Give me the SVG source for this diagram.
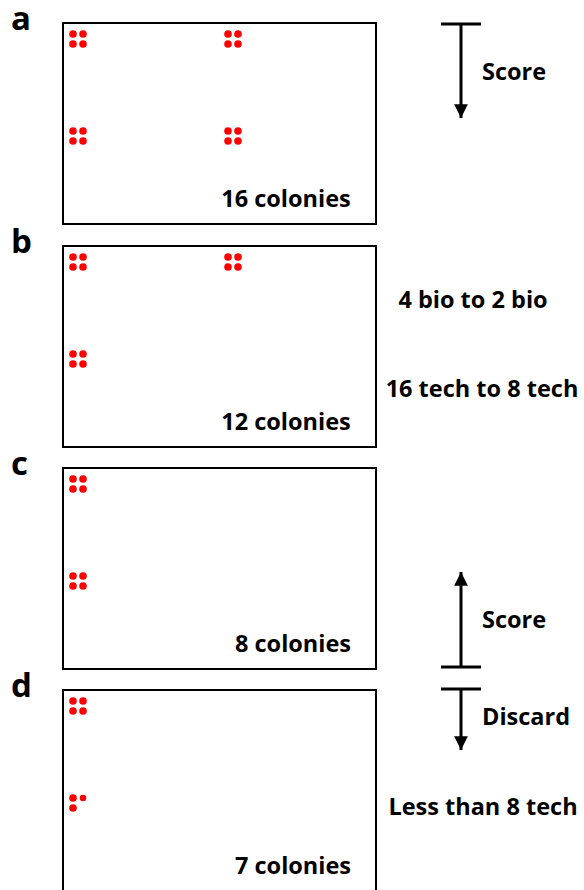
<svg xmlns="http://www.w3.org/2000/svg" width="584" height="890" viewBox="0 0 584 890">
<style>
.box{fill:#fff;stroke:#000;stroke-width:2}
.dot{fill:#ff0000}
.t{font-family:"Open Sans","Noto Sans",sans-serif;font-weight:bold;font-size:23.5px;fill:#000}
.lbl{font-family:"Open Sans","Noto Sans",sans-serif;font-weight:bold;font-size:33px;fill:#000}
.ln{stroke:#000;stroke-width:3;fill:none}
</style>
<defs>
<g id="q"><circle class="dot" cx="0" cy="0" r="3.8"/><circle class="dot" cx="10" cy="0" r="3.8"/><circle class="dot" cx="0" cy="10" r="3.8"/><circle class="dot" cx="10" cy="10" r="3.8"/></g>
<marker id="ah" viewBox="0 0 10 10" refX="10" refY="5" markerWidth="5.3" markerHeight="4.6" markerUnits="strokeWidth" orient="auto"><path d="M0,0 L10,5 L0,10 Z" fill="#000"/></marker>
</defs>
<g id="panel-a">
<text class="lbl" x="11" y="30">a</text>
<rect class="box" x="63" y="23" width="313" height="201"/>
<use href="#q" x="73" y="34"/><use href="#q" x="228" y="34"/>
<use href="#q" x="73" y="131"/><use href="#q" x="228" y="131"/>
<text class="t" x="286" y="207" text-anchor="middle">16 colonies</text>
</g>
<g id="panel-b">
<text class="lbl" x="11" y="253">b</text>
<rect class="box" x="63" y="246" width="313" height="201"/>
<use href="#q" x="73" y="257"/><use href="#q" x="228" y="257"/>
<use href="#q" x="73" y="354"/>
<text class="t" x="286" y="430" text-anchor="middle">12 colonies</text>
</g>
<g id="panel-c">
<text class="lbl" x="11" y="475">c</text>
<rect class="box" x="63" y="468" width="313" height="201"/>
<use href="#q" x="73" y="479"/>
<use href="#q" x="73" y="576"/>
<text class="t" x="293" y="652" text-anchor="middle">8 colonies</text>
</g>
<g id="panel-d">
<text class="lbl" x="11" y="697">d</text>
<rect class="box" x="63" y="690" width="313" height="210"/>
<use href="#q" x="73" y="701"/>
<circle class="dot" cx="73" cy="798" r="3.8"/><circle class="dot" cx="83" cy="798" r="3.3"/><circle class="dot" cx="73" cy="808" r="3.8"/>
<text class="t" x="293" y="874" text-anchor="middle">7 colonies</text>
</g>
<g id="connectors">
<line class="ln" x1="441" y1="24" x2="481" y2="24"/>
<line class="ln" x1="461" y1="24" x2="461" y2="118" marker-end="url(#ah)"/>
<line class="ln" x1="441" y1="667" x2="481" y2="667"/>
<line class="ln" x1="461" y1="667" x2="461" y2="572" marker-end="url(#ah)"/>
<line class="ln" x1="441" y1="689" x2="481" y2="689"/>
<line class="ln" x1="461" y1="689" x2="461" y2="750" marker-end="url(#ah)"/>
</g>
<g id="texts">
<text class="t" x="482" y="80">Score</text>
<text class="t" x="473" y="308" text-anchor="middle">4 bio to 2 bio</text>
<text class="t" x="482" y="397" text-anchor="middle">16 tech to 8 tech</text>
<text class="t" x="482" y="628">Score</text>
<text class="t" x="482" y="725">Discard</text>
<text class="t" x="483" y="815" text-anchor="middle">Less than 8 tech</text>
</g>
</svg>
